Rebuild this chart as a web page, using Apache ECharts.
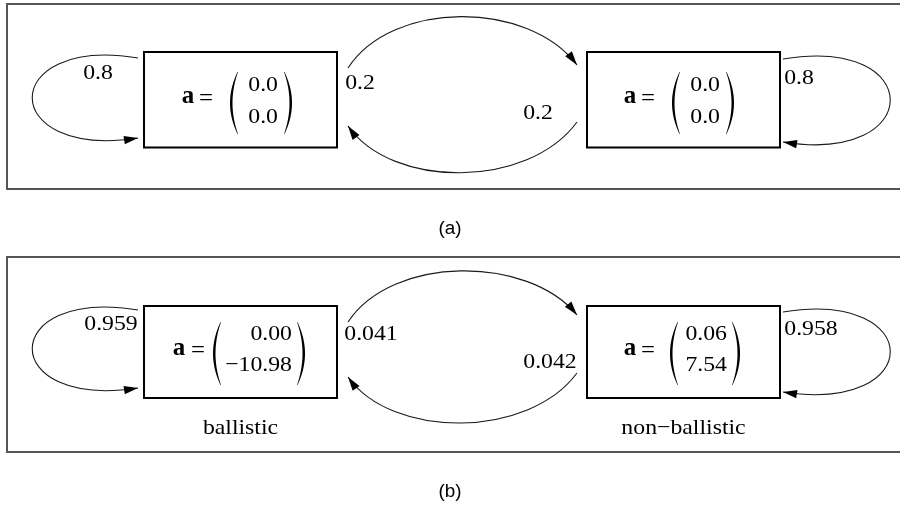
<!DOCTYPE html>
<html>
<head>
<meta charset="utf-8">
<script src="https://cdn.jsdelivr.net/npm/echarts@6/dist/echarts.min.js"></script>
<style>
  html, body { margin: 0; padding: 0; background: #fff; }
  #main { width: 900px; height: 505px; }
</style>
</head>
<body>
<div id="main"></div>
<script>
// Two-state Markov model of the acceleration: (a) initial model, (b) trained model.
const panelCaptions = ['(a)', '(b)'];
const stateNames = [['', ''], ['ballistic', 'non\u2212ballistic']];
// mean acceleration vector a = (ax, ay) of every state
const accelX = [[0.0, 0.0], [0.00, 0.06]];
const accelY = [[0.0, 0.0], [-10.98, 7.54]];
const accelDecimals = [1, 2];
// probability of staying in the state
const stayProb = [[0.8, 0.8], [0.959, 0.958]];
// probability of switching to the other state
const switchProb = [[0.2, 0.2], [0.041, 0.042]];

const SERIF = '"Liberation Serif", "Times New Roman", serif';
const SANS = '"Liberation Sans", Arial, sans-serif';
const TEXT_SX = 1.08;   // slightly wide type
const BOX_W = 193;

// Geometry of each panel, in the units of the hidden 900 x 505 axes.
const layout = [
  {
    frame: [4, 189], caption: 229,
    boxX: [144, 587], boxTop: 52, boxH: 95.5,
    loops: [
      [[138, 58], [-3, 35], [-3, 160], [138, 138]],
      [[783, 59], [926, 35], [926, 165], [783, 142]]
    ],
    arcs: [
      [[348, 68], [392, 0], [528, 0], [577, 65]],
      [[577, 122], [528, 189], [392, 189], [348, 126]]
    ],
    stayAt: [[98, 73], [799, 78]],
    switchAt: [[360, 83], [538, 113]],
    nameY: 428,
    mat: [
      { a: 44, eq: 62, lp: 86, col: 134, rp: 148 },
      { a: 43, eq: 61, lp: 85, col: 133, rp: 147 }
    ],
    rows: [33, 65], paren: [20, 82], sym: 46
  },
  {
    frame: [257, 452], caption: 492,
    boxX: [144, 587], boxTop: 306, boxH: 92,
    loops: [
      [[138, 310], [-3, 287], [-3, 410], [138, 388]],
      [[783, 312], [926, 289], [926, 414], [783, 392]]
    ],
    arcs: [
      [[348, 322], [392, 255], [528, 255], [577, 315]],
      [[577, 373], [528, 439], [392, 439], [348, 377]]
    ],
    stayAt: [[111, 324], [811, 329]],
    switchAt: [[371, 334], [550, 362]],
    nameY: 428,
    mat: [
      { a: 35, eq: 54, lp: 69, col: 148, rp: 161 },
      { a: 43, eq: 61, lp: 83, col: 140, rp: 153 }
    ],
    rows: [28, 59], paren: [16, 79], sym: 44
  }
];

function fmtNum(v, d) {
  return v.toFixed(d).replace('-', '\u2212');
}

function textEl(api, pt, str, opts) {
  const c = api.coord(pt);
  return {
    type: 'text',
    x: c[0], y: c[1],
    scaleX: opts.sx || TEXT_SX,
    style: {
      text: str,
      fill: '#000',
      fontFamily: opts.family || SERIF,
      fontSize: opts.size || 22,
      fontWeight: opts.weight || 'normal',
      align: opts.align || 'center',
      textAlign: opts.align || 'center',
      verticalAlign: 'middle',
      textVerticalAlign: 'middle'
    }
  };
}

function curveWithArrow(api, pts) {
  const p = pts.map(q => api.coord(q));
  const els = [{
    type: 'bezierCurve',
    shape: {
      x1: p[0][0], y1: p[0][1],
      cpx1: p[1][0], cpy1: p[1][1],
      cpx2: p[2][0], cpy2: p[2][1],
      x2: p[3][0], y2: p[3][1]
    },
    style: { stroke: '#1a1a1a', lineWidth: 1.1, fill: null }
  }];
  // arrow head along the end tangent
  let dx = p[3][0] - p[2][0], dy = p[3][1] - p[2][1];
  const len = Math.hypot(dx, dy);
  dx /= len; dy /= len;
  const L = 14, W = 4.2;
  const bx = p[3][0] - dx * L, by = p[3][1] - dy * L;
  els.push({
    type: 'polygon',
    shape: { points: [[p[3][0], p[3][1]], [bx - dy * W, by + dx * W], [bx + dy * W, by - dx * W]] },
    style: { fill: '#000', stroke: null }
  });
  return els;
}

// crescent-shaped tall parenthesis; dir = -1 opens right "(", +1 opens left ")"
function paren(api, xOuter, yTop, yBot, dir) {
  const depth = 7.5, thick = 2.0, n = 24;
  const outer = [], inner = [];
  for (let i = 0; i <= n; i++) {
    const s = i / n;
    const yy = yTop + (yBot - yTop) * s;
    const k = 1 - (2 * s - 1) * (2 * s - 1);
    // xOuter is the extreme point of the bow
    const xo = xOuter - dir * depth * (1 - k);
    const xi = xOuter - dir * (depth * (1 - k) + thick * k + 0.5);
    outer.push(api.coord([xo, yy]));
    inner.push(api.coord([xi, yy]));
  }
  return {
    type: 'polygon',
    shape: { points: outer.concat(inner.reverse()) },
    style: { fill: '#000', stroke: null }
  };
}

function renderState(params, api) {
  const p = api.value(0), s = api.value(1);
  const L = layout[p];
  const bx = L.boxX[s];
  const children = [];

  const tl = api.coord([bx, L.boxTop]);
  const br = api.coord([bx + BOX_W, L.boxTop + L.boxH]);
  children.push({
    type: 'rect',
    shape: { x: tl[0], y: tl[1], width: br[0] - tl[0], height: br[1] - tl[1] },
    style: { fill: '#fff', stroke: '#000', lineWidth: 2 }
  });

  // a = ( ax ; ay )
  const m = L.mat[s];
  const yMid = L.boxTop + L.sym;
  children.push(textEl(api, [bx + m.a, yMid - 1], 'a', { weight: 'bold', size: 25, sx: 1.0 }));
  children.push(textEl(api, [bx + m.eq, yMid + 1], '=', { size: 23 }));
  children.push(paren(api, bx + m.lp, L.boxTop + L.paren[0], L.boxTop + L.paren[1], -1));
  children.push(paren(api, bx + m.rp, L.boxTop + L.paren[0], L.boxTop + L.paren[1], 1));
  children.push(textEl(api, [bx + m.col, L.boxTop + L.rows[0]], fmtNum(accelX[p][s], accelDecimals[p]), { align: 'right' }));
  children.push(textEl(api, [bx + m.col, L.boxTop + L.rows[1]], fmtNum(accelY[p][s], accelDecimals[p]), { align: 'right' }));

  // self transition
  children.push(...curveWithArrow(api, L.loops[s]));
  children.push(textEl(api, L.stayAt[s], String(stayProb[p][s]), {}));

  // transition to the other state
  children.push(...curveWithArrow(api, L.arcs[s]));
  children.push(textEl(api, L.switchAt[s], String(switchProb[p][s]), {}));

  if (stateNames[p][s]) {
    children.push(textEl(api, [bx + BOX_W / 2, L.nameY], stateNames[p][s], {}));
  }
  return { type: 'group', children };
}

function renderPanel(params, api) {
  const p = api.value(0);
  const L = layout[p];
  const tl = api.coord([7, L.frame[0]]);
  const br = api.coord([904, L.frame[1]]);
  return {
    type: 'group',
    children: [
      {
        type: 'rect',
        shape: { x: tl[0], y: tl[1], width: br[0] - tl[0], height: br[1] - tl[1] },
        style: { fill: null, stroke: '#555', lineWidth: 2 }
      },
      textEl(api, [450, L.caption], panelCaptions[p], { family: SANS, size: 18, sx: 1.05 })
    ]
  };
}

const panelData = panelCaptions.map((_, i) => [i, 0]);
const stateData = [];
panelCaptions.forEach((_, p) => [0, 1].forEach(s => stateData.push([p, s])));

const chart = echarts.init(document.getElementById('main'), null, { renderer: 'canvas' });
chart.setOption({
  backgroundColor: '#fff',
  animation: false,
  grid: { left: 0, right: 0, top: 0, bottom: 0 },
  xAxis: { type: 'value', min: 0, max: 900, show: false },
  yAxis: { type: 'value', min: 0, max: 505, inverse: true, show: false },
  series: [
    { type: 'custom', coordinateSystem: 'cartesian2d', renderItem: renderPanel, data: panelData, silent: true, clip: false },
    { type: 'custom', coordinateSystem: 'cartesian2d', renderItem: renderState, data: stateData, silent: true, clip: false }
  ]
});
</script>
</body>
</html>
